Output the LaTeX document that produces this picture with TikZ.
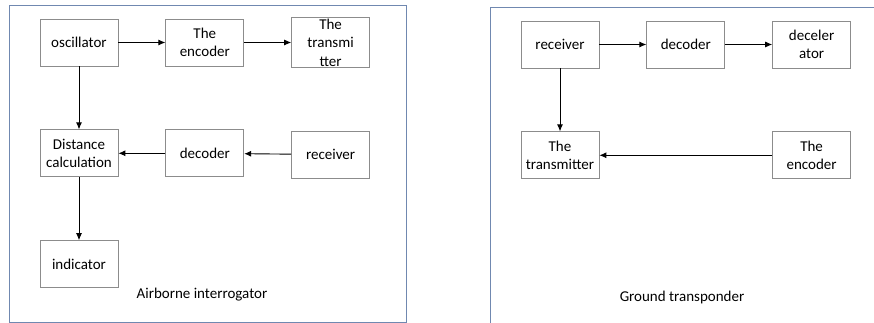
\documentclass[tikz,border=0pt]{standalone}
\usepackage{fontspec}
\setmainfont{Carlito}
\usetikzlibrary{positioning,arrows.meta}
\definecolor{frameBlue}{RGB}{112,136,176}
\definecolor{boxGray}{RGB}{140,140,140}
\tikzset{
    base/.style={font=\fontsize{15}{18.5}\selectfont, align=center},
    block/.style={base, rectangle, draw=boxGray, line width=0.8pt,
                  minimum width=78pt, minimum height=47pt, inner sep=1pt},
    flow/.style={-{Latex[length=7pt,width=6pt]}, line width=0.9pt, black},
    frame/.style={draw=frameBlue, line width=0.9pt},
    caption/.style={base}
}

\begin{document}
\begin{tikzpicture}[x=1pt, y=-1pt, node distance=63pt and 47pt]
  \useasboundingbox (0,0) rectangle (874,323);

  % Airborne interrogator
  \draw[frame] (9,5) rectangle (406,322.5);
  \node[block] (osc) at (79,42.5) {oscillator};
  \node[block, right=of osc] (enc) {The\\encoder};
  \node[block, right=of enc] (tx) {The\\transmi\\tter};
  \node[block, below=of osc] (dist) {Distance\\calculation};
  \node[block, below=of enc] (dec) {decoder};
  \node[block, below=of tx] (rx) {receiver};
  \node[block, below=of dist] (ind) {indicator};
  \node[caption] (air) at (202,295) {Airborne interrogator};

  \draw[flow] (osc) -- (enc);
  \draw[flow] (enc) -- (tx);
  \draw[flow] (osc) -- (dist);
  \draw[flow] (rx) -- (dec);
  \draw[flow] (dec) -- (dist);
  \draw[flow] (dist) -- (ind);

  % Ground transponder
  \draw[frame] (874,7) -- (490,7) -- (490,323);
  \node[block] (grx) at (560,44.5) {receiver};
  \node[block, right=of grx] (gdec) {decoder};
  \node[block, right=of gdec] (gdecel) {deceler\\ator};
  \node[block, below=of grx] (gtx) {The\\transmitter};
  \node[block, below=of gdecel] (genc) {The\\encoder};
  \node[caption] (gnd) at (682,297) {Ground transponder};

  \draw[flow] (grx) -- (gdec);
  \draw[flow] (gdec) -- (gdecel);
  \draw[flow] (grx) -- (gtx);
  \draw[flow] (genc) -- (gtx);
\end{tikzpicture}
\end{document}
